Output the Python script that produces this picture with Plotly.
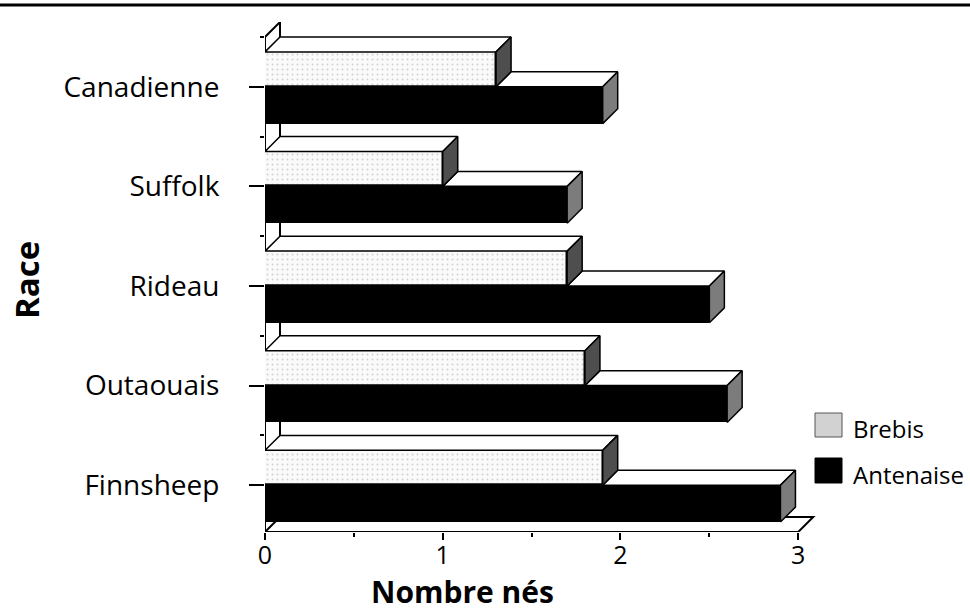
import plotly.graph_objects as go

# Lamb counts per breed (bottom to top on the chart)
races = ["Finnsheep", "Outaouais", "Rideau", "Suffolk", "Canadienne"]
brebis = [1.9, 1.8, 1.7, 1.0, 1.3]
antenaise = [2.9, 2.6, 2.5, 1.7, 1.9]
x_ticks = [0, 1, 2, 3]

FONT = "Open Sans"
BAR_B = 0.35      # height of the Brebis bar (category units)
BAR_A = 0.37      # height of the Antenaise bar
DX = 0.0844       # oblique depth offset along x (data units)
DY = 0.15         # oblique depth offset along y (category units)
Y_MIN, Y_MAX = -0.47, 4.65
X_MAX = 3.1

pos = list(range(len(races)))

fig = go.Figure()

# Front faces as horizontal bars
fig.add_trace(go.Bar(
    y=[p + BAR_B / 2 for p in pos], x=brebis, base=0, width=BAR_B,
    orientation="h", name="Brebis", showlegend=False,
    marker=dict(color="#f6f6f6", line=dict(color="black", width=1.5),
                pattern=dict(shape=".", fgcolor="#a8a8a8", bgcolor="#fafafa",
                             size=5, solidity=0.12)),
))
fig.add_trace(go.Bar(
    y=[p - BAR_A / 2 for p in pos], x=antenaise, base=0, width=BAR_A,
    orientation="h", name="Antenaise", showlegend=False,
    marker=dict(color="black", line=dict(color="black", width=1.5)),
))


def polys(shapes):
    xs, ys = [], []
    for pts in shapes:
        for (px, py) in pts + [pts[0]]:
            xs.append(px)
            ys.append(py)
        xs.append(None)
        ys.append(None)
    return xs, ys


top_b, side_b, top_a, side_a = [], [], [], []
for p, vb, va in zip(pos, brebis, antenaise):
    yt = p + BAR_B
    top_b.append([(0, yt), (vb, yt), (vb + DX, yt + DY), (DX, yt + DY)])
    side_b.append([(vb, p), (vb + DX, p + DY), (vb + DX, yt + DY), (vb, yt)])
    if va > vb:
        top_a.append([(vb, p), (va, p), (va + DX, p + DY), (vb + DX, p + DY)])
    yb = p - BAR_A
    side_a.append([(va, yb), (va + DX, yb + DY), (va + DX, p + DY), (va, p)])

for shapes, fill in [(top_a, "white"), (side_a, "#7c7c7c"),
                     (top_b, "white"), (side_b, "#4e4e4e")]:
    xs, ys = polys(shapes)
    fig.add_trace(go.Scatter(
        x=xs, y=ys, mode="lines", fill="toself", fillcolor=fill,
        line=dict(color="black", width=1.5), hoverinfo="skip", showlegend=False,
    ))

shapes = []
# Floor of the 3D frame
shapes.append(dict(
    type="path", xref="x", yref="y", layer="below",
    path=f"M 0 {Y_MIN} L {x_ticks[-1]} {Y_MIN} L {x_ticks[-1] + DX} {Y_MIN + DY} "
         f"L {DX} {Y_MIN + DY} Z",
    line=dict(color="black", width=2), fillcolor="white",
))
# Left wall edges
wall_top = len(races) - 0.5
shapes += [
    dict(type="line", xref="x", yref="y", layer="below", x0=0, x1=0,
         y0=Y_MIN, y1=wall_top, line=dict(color="black", width=2)),
    dict(type="line", xref="x", yref="y", layer="below", x0=DX, x1=DX,
         y0=Y_MIN + DY, y1=wall_top + DY, line=dict(color="black", width=2)),
    dict(type="line", xref="x", yref="y", layer="below", x0=0, x1=DX,
         y0=wall_top, y1=wall_top + DY, line=dict(color="black", width=2)),
]

# Page rule across the top
W, H = 970, 611
ML, MR, MT, MB = 265, 154, 22, 79
PW, PH = W - ML - MR, H - MT - MB


def px_x(v):
    return (v - ML) / PW


def px_y(v):
    return (H - MB - v) / PH


shapes.append(dict(type="line", xref="paper", yref="paper",
                   x0=px_x(0), x1=px_x(W), y0=px_y(5), y1=px_y(5),
                   line=dict(color="black", width=3)))

# Legend swatches
shapes.append(dict(type="rect", xref="paper", yref="paper",
                   x0=px_x(815), x1=px_x(842), y0=px_y(437), y1=px_y(413),
                   line=dict(color="#555", width=1), fillcolor="#d2d2d2"))
shapes.append(dict(type="rect", xref="paper", yref="paper",
                   x0=px_x(815), x1=px_x(842), y0=px_y(483), y1=px_y(458),
                   line=dict(color="black", width=1), fillcolor="black"))

annotations = [
    dict(text="Brebis", xref="paper", yref="paper", x=px_x(851), y=px_y(428),
         xanchor="left", yanchor="middle", showarrow=False,
         font=dict(family=FONT, size=24, color="black")),
    dict(text="Antenaise", xref="paper", yref="paper", x=px_x(851), y=px_y(474),
         xanchor="left", yanchor="middle", showarrow=False,
         font=dict(family=FONT, size=24, color="black")),
    dict(text="<b>Nombre nés</b>", xref="paper", yref="paper", x=px_x(462),
         y=px_y(591), xanchor="center", yanchor="middle", showarrow=False,
         font=dict(family=FONT, size=30, color="black")),
    dict(text="<b>Race</b>", xref="paper", yref="paper", x=px_x(26),
         y=px_y(280), xanchor="center", yanchor="middle", showarrow=False,
         textangle=-90, font=dict(family=FONT, size=33, color="black")),
]

fig.update_layout(
    width=W, height=H,
    margin=dict(l=ML, r=MR, t=MT, b=MB, pad=0),
    plot_bgcolor="white", paper_bgcolor="white",
    barmode="overlay", bargap=0,
    shapes=shapes, annotations=annotations, showlegend=False,
    xaxis=dict(range=[0, X_MAX], tickvals=x_ticks,
               ticktext=[str(t) for t in x_ticks],
               showgrid=False, zeroline=False, showline=False,
               ticks="outside", ticklen=7, tickwidth=2, tickcolor="black",
               minor=dict(tickvals=[0.5, 1.5, 2.5], ticks="outside",
                          ticklen=4, tickwidth=2, tickcolor="black"),
               ticklabelstandoff=-6,
               tickfont=dict(family=FONT, size=25, color="black")),
    yaxis=dict(range=[Y_MIN, Y_MAX], tickvals=pos, ticktext=races,
               showgrid=False, zeroline=False, showline=False,
               ticks="outside", ticklen=15, tickwidth=2, tickcolor="black",
               minor=dict(tickvals=[p + 0.5 for p in pos], ticks="outside",
                          ticklen=4, tickwidth=2, tickcolor="black"),
               ticklabelstandoff=24,
               tickfont=dict(family=FONT, size=28, color="black")),
)

fig.write_html("out.html")
